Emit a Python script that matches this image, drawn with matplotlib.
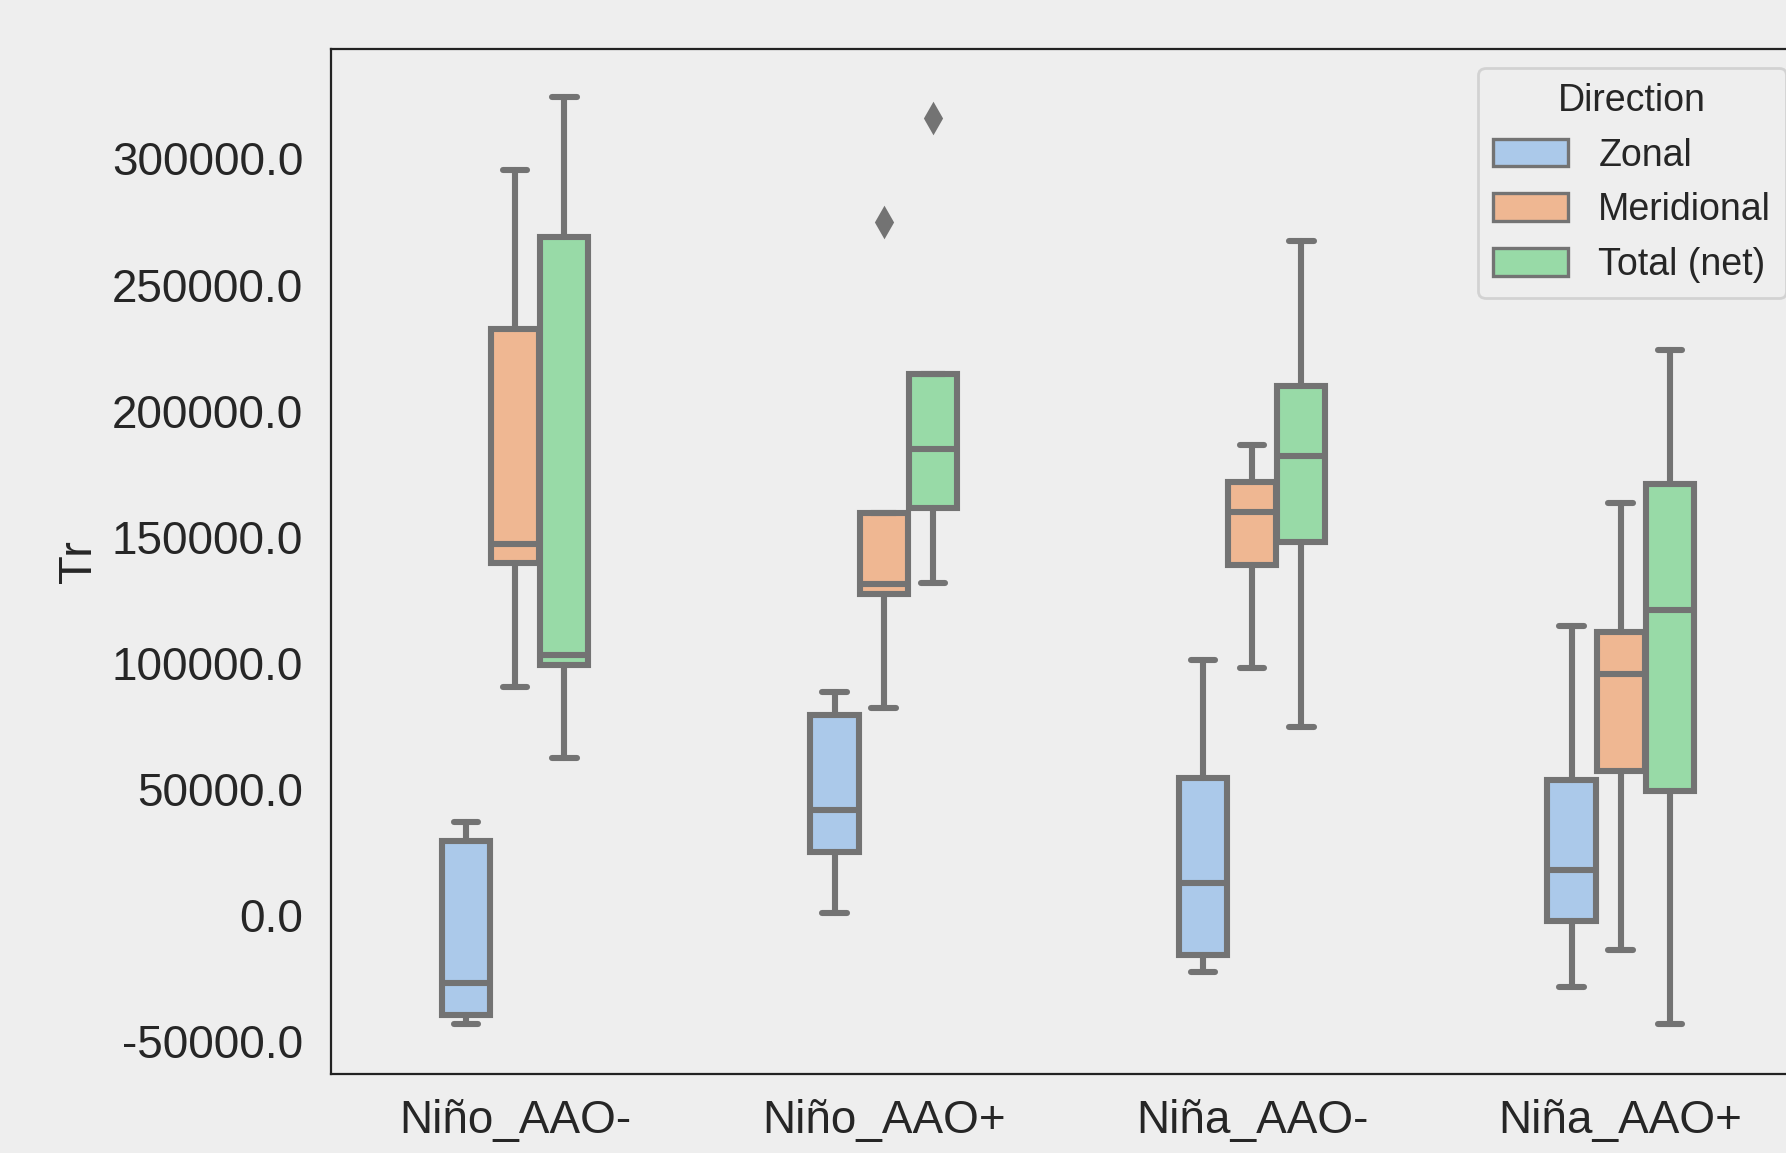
import numpy as np
import matplotlib
matplotlib.use("Agg")
import matplotlib.pyplot as plt
from matplotlib.patches import Patch
from matplotlib.ticker import FormatStrFormatter
import colorsys
import matplotlib.colors as mcolors

categories = ["Niño_AAO-", "Niño_AAO+", "Niña_AAO-", "Niña_AAO+"]
directions = ["Zonal", "Meridional", "Total (net)"]

# box statistics per direction, one entry per category
zonal_whislo = [-43100, 900, -22500, -28700]
zonal_q1 = [-39500, 25100, -15700, -2200]
zonal_med = [-26900, 41800, 12600, 18000]
zonal_q3 = [29200, 79500, 54300, 53400]
zonal_whishi = [36800, 88500, 101000, 114500]
zonal_fliers = [[], [], [], []]

merid_whislo = [90300, 82200, 97900, -13900]
merid_q1 = [139700, 127100, 138800, 57000]
merid_med = [147300, 131100, 159900, 95700]
merid_q3 = [232200, 159400, 171600, 112300]
merid_whishi = [295500, 159400, 186400, 163500]
merid_fliers = [[], [274900], [], []]

total_whislo = [62400, 131600, 74500, -43100]
total_q1 = [99300, 161200, 147800, 49000]
total_med = [103300, 184600, 181900, 120800]
total_q3 = [269000, 214700, 209700, 171100]
total_whishi = [324300, 214700, 267200, 224100]
total_fliers = [[], [316200], [], []]

series = [
    (zonal_whislo, zonal_q1, zonal_med, zonal_q3, zonal_whishi, zonal_fliers),
    (merid_whislo, merid_q1, merid_med, merid_q3, merid_whishi, merid_fliers),
    (total_whislo, total_q1, total_med, total_q3, total_whishi, total_fliers),
]

base_colors = ["#a1c9f4", "#ffb482", "#8de5a1"]


def desaturate(c, prop=0.75):
    r, g, b = mcolors.to_rgb(c)
    h, l, s = colorsys.rgb_to_hls(r, g, b)
    return colorsys.hls_to_rgb(h, l, s * prop)


colors = [desaturate(c) for c in base_colors]
edge = "#737373"
bg = "#eeeeee"

plt.rcParams["font.family"] = ["Liberation Sans", "DejaVu Sans"]

fig = plt.figure(figsize=(8.93, 5.765), dpi=200, facecolor=bg)
ax = fig.add_axes([0.1853, 0.0686, 0.8253, 0.8889])
ax.set_facecolor(bg)

n_hue = len(directions)
each = 0.4 / n_hue
lw = 2.2
for j, (wl, q1, med, q3, wh, fl) in enumerate(series):
    stats = []
    for i in range(len(categories)):
        stats.append(dict(whislo=wl[i], q1=q1[i], med=med[i], q3=q3[i],
                          whishi=wh[i], fliers=fl[i]))
    pos = [i + (j - (n_hue - 1) / 2) * each for i in range(len(categories))]
    ax.bxp(stats, positions=pos, widths=each * 0.98, patch_artist=True,
           showfliers=True, capwidths=each * 0.5,
           boxprops=dict(facecolor=colors[j], edgecolor=edge, linewidth=lw),
           medianprops=dict(color=edge, linewidth=lw),
           whiskerprops=dict(color=edge, linewidth=lw, solid_capstyle="round"),
           capprops=dict(color=edge, linewidth=lw, solid_capstyle="round"),
           flierprops=dict(marker="d", markerfacecolor=edge, markeredgecolor=edge,
                           markersize=7, linestyle="none"),
           manage_ticks=False)

ax.set_xlim(-0.5, len(categories) - 0.5)
ax.set_ylim(-63000, 343400)
ax.set_xticks(range(len(categories)))
ax.set_xticklabels(categories)
ax.set_yticks(np.arange(-50000, 300001, 50000))
ax.yaxis.set_major_formatter(FormatStrFormatter("%.1f"))
ax.tick_params(axis="both", length=0, labelsize=16.5, colors="#262626")
ax.tick_params(axis="y", pad=10)
ax.tick_params(axis="x", pad=9)
ax.set_ylabel("Tr", fontsize=17, color="#262626", labelpad=4)
for s in ax.spines.values():
    s.set_color("#222222")
    s.set_linewidth(0.8)
ax.grid(False)

handles = [Patch(facecolor=colors[j], edgecolor=edge, linewidth=1.2, label=directions[j])
           for j in range(n_hue)]
leg = ax.legend(handles=handles, title="Direction", loc="upper right",
                fontsize=13.5, title_fontsize=13.5,
                frameon=True, fancybox=True, handlelength=2.0, handleheight=0.75)
leg.get_frame().set_facecolor(bg)
leg.get_frame().set_edgecolor("#cccccc")
leg.get_frame().set_linewidth(1.0)
for t in leg.get_texts():
    t.set_color("#262626")
leg.get_title().set_color("#262626")

fig.savefig("out.png", dpi=200, facecolor=bg)
